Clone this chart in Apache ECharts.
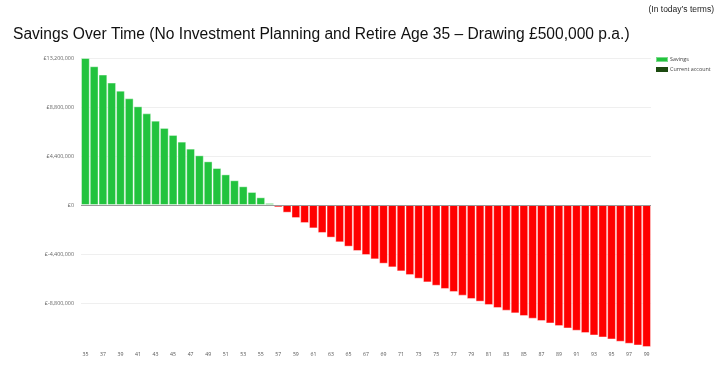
<!DOCTYPE html>
<html><head><meta charset="utf-8">
<script src="https://cdn.jsdelivr.net/npm/echarts@6/dist/echarts.min.js"></script>
<style>html,body{margin:0;padding:0;background:#fff}#c{width:720px;height:382px}</style>
</head><body><div id="c"></div>
<script>
var ages = [];
for (var a = 35; a <= 99; a++) ages.push(String(a));
var savings = [
  13200000, 12460000, 11710000, 10990000, 10270000, 9580000, 8860000, 8230000, 7570000, 6920000,
  6290000, 5690000, 5060000, 4460000, 3920000, 3320000, 2750000, 2220000, 1680000, 1170000,
  690000, 180000,
  -210000, -690000, -1170000, -1620000, -2100000, -2510000, -2930000, -3350000, -3740000, -4130000,
  -4490000, -4880000, -5270000, -5600000, -5960000, -6290000, -6620000, -6950000, -7250000, -7540000,
  -7810000, -8140000, -8440000, -8680000, -8980000, -9250000, -9490000, -9730000, -9970000, -10210000,
  -10420000, -10630000, -10870000, -11080000, -11290000, -11500000, -11710000, -11890000, -12070000, -12280000,
  -12460000, -12610000, -12750000
];
var currentAccount = [];
var seriesNames = ['Savings', 'Current account'];
var titleText = 'Savings Over Time (No Investment Planning and Retire Age 35 \u2013 Drawing \u00a3500,000 p.a.)';
var subtitleText = '(In today\u2019s terms)';

var GREEN = '#22c33e', RED = '#ff0000', DARK = '#1c4a10';
function fmt(v) {
  var s = Math.abs(v).toString().replace(/\B(?=(\d{3})+(?!\d))/g, ',');
  return '\u00a3' + (v < 0 ? '-' : '') + s;
}
var chart = echarts.init(document.getElementById('c'), null, {renderer: 'canvas'});
chart.setOption({
  animation: false,
  title: [
    {text: titleText, left: 8, top: 22, textStyle: {fontFamily: 'Liberation Sans', fontSize: 15.6, fontWeight: 'normal', color: '#111'}},
    {text: subtitleText, right: 1, top: 0, textStyle: {fontFamily: 'Liberation Sans', fontSize: 8.5, fontWeight: 'normal', color: '#222'}}
  ],
  legend: {
    orient: 'vertical', left: 650, top: 51, itemWidth: 12, itemHeight: 5, itemGap: 4,
    icon: 'rect',
    textStyle: {fontFamily: 'Open Sans', fontSize: 5.4, color: '#444', padding: [0,0,0,-3]},
    data: seriesNames
  },
  grid: {left: 81, right: 69, top: 58, bottom: 30, containLabel: false},
  xAxis: {
    type: 'category', data: ages,
    axisLine: {show: false, onZero: false},
    axisTick: {show: false},
    axisLabel: {interval: 1, fontFamily: 'Open Sans', fontSize: 5.2, color: '#555', margin: 0}
  },
  yAxis: {
    type: 'value', min: -13200000, max: 13200000, interval: 4400000,
    axisLine: {show: false}, axisTick: {show: false},
    axisLabel: {showMinLabel: false, formatter: fmt, fontFamily: 'Open Sans', fontSize: 5.4, color: '#666', margin: 7},
    splitLine: {showMinLine: false, lineStyle: {color: '#efefef', width: 1}}
  },
  series: [
    {
      name: seriesNames[0], type: 'bar', barCategoryGap: '0%', stack: 's',
      itemStyle: {color: GREEN, borderColor: 'rgba(255,255,255,0.4)', borderWidth: 1},
      data: savings.map(function (v) { return {value: v, itemStyle: {color: v < 0 ? RED : GREEN}}; }),
      markLine: {silent: true, symbol: 'none', label: {show: false},
        lineStyle: {color: '#999', type: 'solid', width: 1}, data: [{yAxis: 0}]}
    },
    {
      name: seriesNames[1], type: 'bar', stack: 's', barCategoryGap: '0%',
      itemStyle: {color: DARK}, data: currentAccount
    }
  ]
});
</script></body></html>
